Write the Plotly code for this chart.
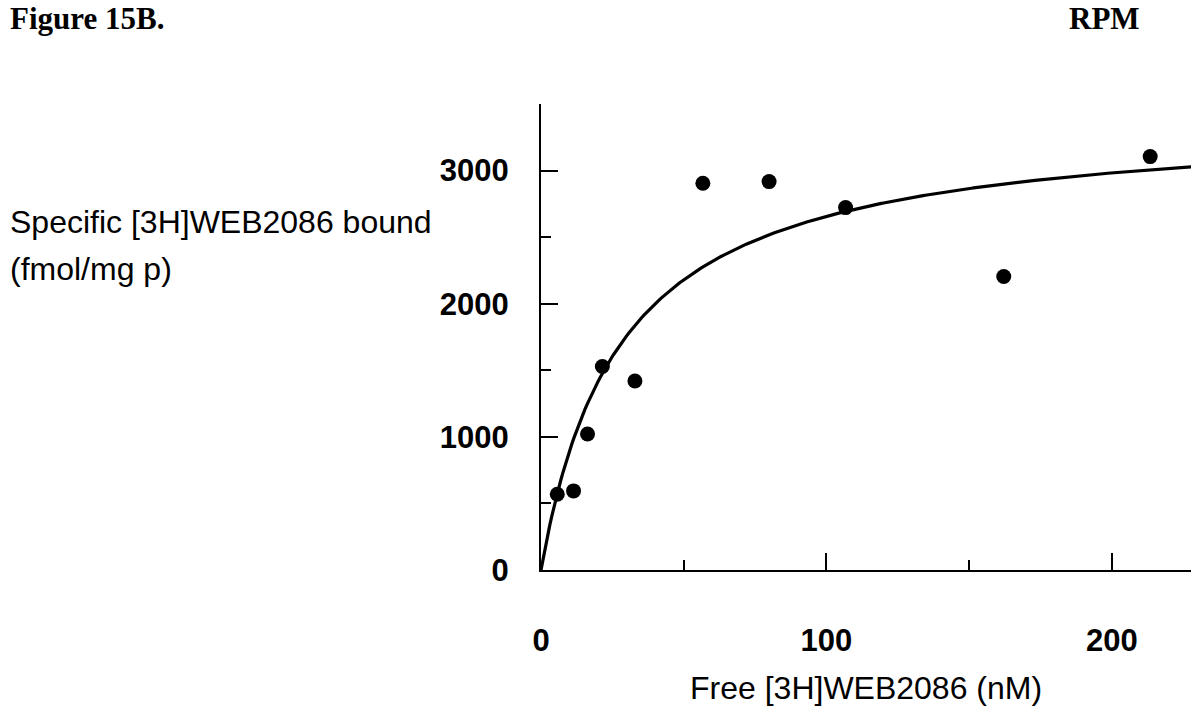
import numpy as np
import plotly.graph_objects as go

# Saturation binding of [3H]WEB2086 (RPM)
free_nM = [5.7, 11.4, 16.3, 21.5, 32.9, 56.7, 79.9, 106.7, 162.1, 213.4]
bound_fmol = [569, 594, 1022, 1528, 1420, 2905, 2917, 2722, 2204, 3105]

# One-site hyperbolic fit: B = Bmax * F / (Kd + F)
bmax_fit = 3400.0
kd_fit = 28.0
fit_x = np.linspace(0, 230, 300)
fit_y = bmax_fit * fit_x / (kd_fit + fit_x)

x_ticks = [0, 100, 200]
y_ticks = [0, 1000, 2000, 3000]

W, H = 1191, 708
L, R, T, B = 541, 0, 104, 138

fig = go.Figure()
fig.add_trace(go.Scatter(x=fit_x, y=fit_y, mode="lines",
                         line=dict(color="black", width=3.2),
                         hoverinfo="skip", showlegend=False))
fig.add_trace(go.Scatter(x=free_nM, y=bound_fmol, mode="markers",
                         marker=dict(color="black", size=15),
                         showlegend=False))

tick_font = dict(family="Liberation Sans, Arial, sans-serif", size=31, color="black")
title_font = dict(family="Liberation Sans, Arial, sans-serif", size=32, color="black")
serif_font = dict(family="Liberation Serif, Times New Roman, serif", size=31, color="black")

fig.update_layout(
    width=W, height=H,
    margin=dict(l=L, r=R, t=T, b=B, pad=0),
    paper_bgcolor="white", plot_bgcolor="white",
    xaxis=dict(range=[0, 227.7], showgrid=False, zeroline=False,
               showline=True, linecolor="black", linewidth=2,
               ticks="inside", ticklen=17, tickwidth=1.8, tickcolor="black",
               tickvals=x_ticks, ticktext=[str(v) for v in x_ticks],
               tickfont=dict(tick_font, weight="bold"),
               ticklabelstandoff=42,
               minor=dict(dtick=50, tick0=0, ticks="inside", ticklen=10,
                          tickwidth=1.5, tickcolor="black", showgrid=False)),
    yaxis=dict(range=[0, 3500], showgrid=False, zeroline=False,
               showline=True, linecolor="black", linewidth=2,
               ticks="inside", ticklen=17, tickwidth=1.8, tickcolor="black",
               tickvals=y_ticks, ticktext=[str(v) for v in y_ticks],
               tickfont=dict(tick_font, weight="bold"),
               ticklabelstandoff=24,
               minor=dict(dtick=500, tick0=0, ticks="inside", ticklen=10,
                          tickwidth=1.5, tickcolor="black", showgrid=False)),
)

pw = W - L - R
ph = H - T - B


def px_x(x):
    return (x - L) / pw


def px_y(y):
    return (H - B - y) / ph


annotations = [
    dict(text="<b>Figure 15B.</b>", x=px_x(8), y=px_y(18), xanchor="left",
         yanchor="middle", font=serif_font),
    dict(text="<b>RPM</b>", x=px_x(1104), y=px_y(18), xanchor="center",
         yanchor="middle", font=serif_font),
    dict(text="Specific [3H]WEB2086 bound", x=px_x(8), y=px_y(222),
         xanchor="left", yanchor="middle", font=title_font),
    dict(text="(fmol/mg p)", x=px_x(8), y=px_y(269),
         xanchor="left", yanchor="middle", font=title_font),
    dict(text="Free [3H]WEB2086 (nM)", x=0.5, y=px_y(688),
         xanchor="center", yanchor="middle", font=title_font),
]
for a in annotations:
    a.update(xref="paper", yref="paper", showarrow=False)
fig.update_layout(annotations=annotations)

fig.write_html("out.html")
